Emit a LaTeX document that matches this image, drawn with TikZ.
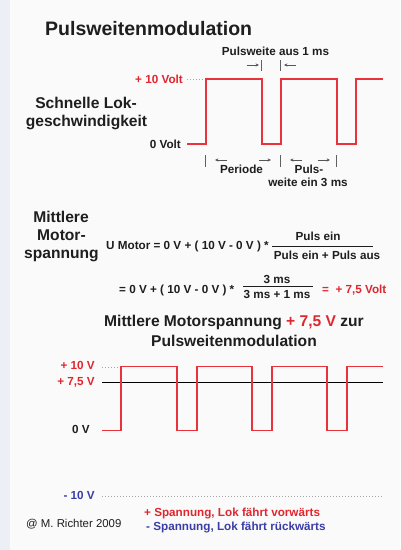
\documentclass[tikz,border=0pt]{standalone}
\usepackage{fontspec}
\setmainfont{Liberation Sans}
\usetikzlibrary{arrows.meta}
\definecolor{sigred}{HTML}{E8323C}
\definecolor{txtred}{HTML}{E0262E}
\definecolor{txtblue}{HTML}{3A3DA6}
\definecolor{pagebg}{HTML}{FAFAFA}
\definecolor{stripbg}{HTML}{ECEFF5}
\definecolor{txtblack}{HTML}{1E1E1E}
\tikzset{
  big/.style={font=\fontsize{19.5}{22}\selectfont\bfseries, text=txtblack, inner sep=0pt},
  mid/.style={font=\fontsize{15.6}{18}\selectfont\bfseries, text=txtblack, inner sep=0pt},
  small/.style={font=\fontsize{11.7}{14}\selectfont\bfseries, text=txtblack, inner sep=0pt},
  smallred/.style={small, text=txtred},
  smallblue/.style={small, text=txtblue},
  plain/.style={font=\fontsize{11.4}{14}\selectfont, text=txtblack, inner sep=0pt},
  signal/.style={draw=sigred, line width=1.4pt, line join=miter},
  dots/.style={draw=gray!70, line width=0.7pt, dash pattern=on 1pt off 2pt},
  bar/.style={draw=txtblack!70, line width=0.6pt},
  marrow/.style={draw=txtblack!75, line width=0.55pt, -{Stealth[length=3.4pt,width=3.2pt]}},
  fracline/.style={draw=txtblack, line width=0.6pt}
}
\begin{document}
\begin{tikzpicture}[x=1pt, y=-1pt]
\useasboundingbox (0,0) rectangle (400,550);
\fill[pagebg] (0,0) rectangle (400,550);
\fill[stripbg] (0,0) rectangle (10,550);

% ---------- Title
\node[big, anchor=base west] (title) at (45,35) {Pulsweitenmodulation};

% ---------- Upper diagram
\node[small, anchor=base] (aus) at (275.5,55) {Pulsweite aus 1 ms};
\node[smallred, anchor=base east] (u10) at (183,83) {+ 10 Volt};
\node[small, anchor=base east] (u0) at (181,148) {0 Volt};
\node[mid, anchor=base] (schnell1) at (86,108.7) {Schnelle Lok-};
\node[mid, anchor=base] (schnell2) at (86.5,126.7) {geschwindigkeit};

\coordinate (d1a) at (187,79);
\coordinate (d1b) at (205,79);
\draw[dots] (d1a) -- (d1b);

\coordinate (s1) at (187,144);
\draw[signal] (s1) -- (206,144) -- (206,79) -- (262,79) -- (262,144) -- (281,144)
  -- (281,79) -- (337,79) -- (337,144) -- (356,144) -- (356,79) -- (383,79);

% top markers
\coordinate (ta1) at (247,65); \coordinate (ta2) at (259,65);
\coordinate (tb1) at (261.7,60); \coordinate (tb2) at (261.7,71);
\coordinate (tc1) at (280.7,60); \coordinate (tc2) at (280.7,71);
\coordinate (td1) at (296,65); \coordinate (td2) at (284,65);
\draw[marrow] (ta1) -- (ta2);
\draw[bar] (tb1) -- (tb2);
\draw[bar] (tc1) -- (tc2);
\draw[marrow] (td1) -- (td2);

% bottom markers
\coordinate (b1a) at (205.7,155); \coordinate (b1b) at (205.7,167);
\coordinate (b2a) at (280.7,155); \coordinate (b2b) at (280.7,167);
\coordinate (b3a) at (336.7,155); \coordinate (b3b) at (336.7,167);
\draw[bar] (b1a) -- (b1b);
\draw[bar] (b2a) -- (b2b);
\draw[bar] (b3a) -- (b3b);
\coordinate (m1a) at (227,160); \coordinate (m1b) at (215,160);
\coordinate (m2a) at (259,160); \coordinate (m2b) at (271,160);
\coordinate (m3a) at (302,160); \coordinate (m3b) at (290,160);
\coordinate (m4a) at (318,160); \coordinate (m4b) at (330,160);
\draw[marrow] (m1a) -- (m1b);
\draw[marrow] (m2a) -- (m2b);
\draw[marrow] (m3a) -- (m3b);
\draw[marrow] (m4a) -- (m4b);

\node[small, anchor=base] (periode) at (241.5,173) {Periode};
\node[small, anchor=base] (puls1) at (309,173) {Puls-};
\node[small, anchor=base] (puls2) at (308,186.5) {weite ein 3 ms};

% ---------- Formula
\node[mid, anchor=base] (mitt1) at (61,222.3) {Mittlere};
\node[mid, anchor=base] (mitt2) at (61.5,240.7) {Motor-};
\node[mid, anchor=base] (mitt3) at (61.5,258.3) {spannung};

\node[small, anchor=base west] (f1) at (106,249) {U Motor = 0 V + ( 10 V - 0 V ) *};
\node[small, anchor=base] (num1) at (318,240) {Puls ein};
\coordinate (fl1a) at (272,246); \coordinate (fl1b) at (373,246);
\draw[fracline] (fl1a) -- (fl1b);
\node[small, anchor=base] (den1) at (327,259) {Puls ein + Puls aus};

\node[small, anchor=base west] (f2) at (119,293.3) {= 0 V + ( 10 V - 0 V ) *};
\node[small, anchor=base] (num2) at (277,283.3) {3 ms};
\coordinate (fl2a) at (243,286.5); \coordinate (fl2b) at (313,286.5);
\draw[fracline] (fl2a) -- (fl2b);
\node[small, anchor=base] (den2) at (277,298.3) {3 ms + 1 ms};
\node[smallred, anchor=base west] (res) at (322,293.3) {=\ \ + 7,5 Volt};

% ---------- Lower heading
\node[mid, anchor=base] (h1) at (234,326.7) {Mittlere Motorspannung \textcolor{txtred}{+ 7,5 V} zur};
\node[mid, anchor=base] (h2) at (234,346) {Pulsweitenmodulation};

% ---------- Lower diagram
\node[smallred, anchor=base east] (l10) at (95,369.3) {+ 10 V};
\node[smallred, anchor=base east] (l75) at (95,385.5) {+ 7,5 V};
\node[small, anchor=base east] (l0) at (90,433.5) {0 V};
\node[smallblue, anchor=base east] (lm10) at (95,499.5) {- 10 V};

\coordinate (d2a) at (102,367); \coordinate (d2b) at (120,367);
\draw[dots] (d2a) -- (d2b);
\coordinate (d3a) at (102,496); \coordinate (d3b) at (383,496);
\draw[dots] (d3a) -- (d3b);

\coordinate (avg1) at (102,382); \coordinate (avg2) at (383,382);
\draw[black, line width=0.8pt] (avg1) -- (avg2);

\coordinate (s2) at (102,430.7);
\draw[signal] (s2) -- (121,430.7) -- (121,366.7) -- (177,366.7) -- (177,430.7) -- (197,430.7)
  -- (197,366.7) -- (252,366.7) -- (252,430.7) -- (272,430.7) -- (272,366.7) -- (327,366.7)
  -- (327,430.7) -- (347,430.7) -- (347,366.7) -- (383,366.7);

% ---------- Legend
\node[smallred, anchor=base west] (leg1) at (144,516) {+ Spannung, Lok fährt vorwärts};
\node[smallblue, anchor=base west] (leg2) at (146,530.5) {- Spannung, Lok fährt rückwärts};
\node[plain, anchor=base west] (copy) at (26,527) {@ M. Richter 2009};
\end{tikzpicture}
\end{document}
